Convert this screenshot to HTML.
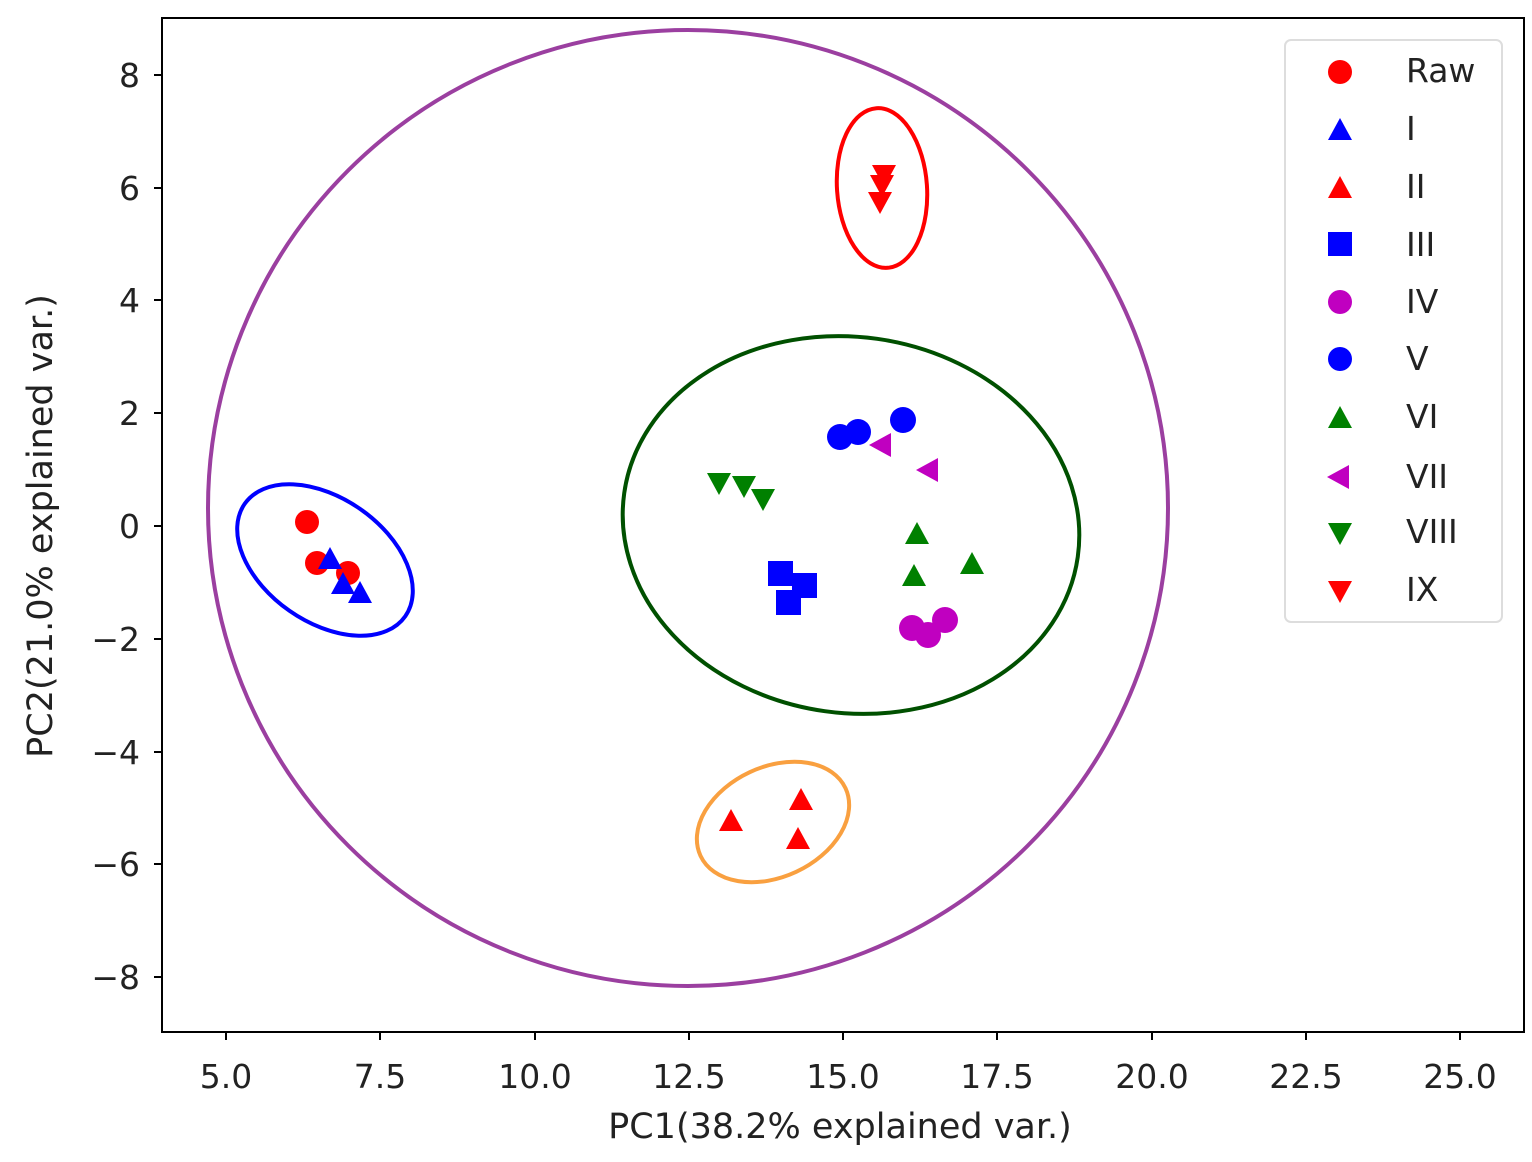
<html><body style="margin:0;background:#fff">
<svg width="1532" height="1162" xmlns="http://www.w3.org/2000/svg" font-family="DejaVu Sans, Liberation Sans, sans-serif">
<defs>
<path id="up" d="M0,-13 L12,9 L-12,9Z"/>
<path id="dn" d="M0,13 L12,-9 L-12,-9Z"/>
<path id="lt" d="M-13,0 L9,-12 L9,12Z"/>
</defs>
<rect x="162" y="18" width="1362" height="1014" fill="none" stroke="#000" stroke-width="2"/>
<g stroke="#000" stroke-width="2">
<line x1="226" y1="1032" x2="226" y2="1040"/><line x1="380" y1="1032" x2="380" y2="1040"/><line x1="535" y1="1032" x2="535" y2="1040"/><line x1="689" y1="1032" x2="689" y2="1040"/><line x1="843" y1="1032" x2="843" y2="1040"/><line x1="997" y1="1032" x2="997" y2="1040"/><line x1="1152" y1="1032" x2="1152" y2="1040"/><line x1="1306" y1="1032" x2="1306" y2="1040"/><line x1="1460" y1="1032" x2="1460" y2="1040"/>
<line x1="154" y1="75" x2="162" y2="75"/><line x1="154" y1="188" x2="162" y2="188"/><line x1="154" y1="300" x2="162" y2="300"/><line x1="154" y1="413" x2="162" y2="413"/><line x1="154" y1="526" x2="162" y2="526"/><line x1="154" y1="639" x2="162" y2="639"/><line x1="154" y1="752" x2="162" y2="752"/><line x1="154" y1="864" x2="162" y2="864"/><line x1="154" y1="977" x2="162" y2="977"/>
</g>
<g font-size="33" fill="#222" text-anchor="middle">
<text x="226" y="1088">5.0</text><text x="380" y="1088">7.5</text><text x="535" y="1088">10.0</text><text x="689" y="1088">12.5</text><text x="843" y="1088">15.0</text><text x="997" y="1088">17.5</text><text x="1152" y="1088">20.0</text><text x="1306" y="1088">22.5</text><text x="1460" y="1088">25.0</text>
</g>
<g font-size="33" fill="#222" text-anchor="end">
<text x="140" y="87">8</text><text x="140" y="200">6</text><text x="140" y="312">4</text><text x="140" y="425">2</text><text x="140" y="538">0</text><text x="140" y="651">−2</text><text x="140" y="764">−4</text><text x="140" y="876">−6</text><text x="140" y="989">−8</text>
</g>
<text x="840" y="1138" font-size="35" fill="#222" text-anchor="middle">PC1(38.2% explained var.)</text>
<text transform="translate(52,526) rotate(-90)" font-size="35" fill="#222" text-anchor="middle">PC2(21.0% explained var.)</text>
<g fill="none" stroke-width="4">
<ellipse cx="688" cy="508" rx="480" ry="478" stroke="#9b3fa0"/>
<ellipse cx="882" cy="188" rx="45" ry="80" stroke="#f00" transform="rotate(-4 882 188)"/>
<ellipse cx="851" cy="525" rx="229" ry="188" stroke="#005000" transform="rotate(8 851 525)"/>
<ellipse cx="325" cy="560" rx="98" ry="62" stroke="#00f" transform="rotate(35 325 560)"/>
<ellipse cx="773" cy="822" rx="80" ry="55" stroke="#f9a040" transform="rotate(-25 773 822)"/>
</g>
<g fill="#f00"><circle cx="307" cy="522" r="12"/><circle cx="317" cy="563" r="12"/><circle cx="348" cy="573" r="12"/></g>
<g fill="#00f"><use href="#up" x="330" y="560"/><use href="#up" x="343" y="585"/><use href="#up" x="360" y="594"/></g>
<g fill="#f00"><use href="#up" x="731" y="822"/><use href="#up" x="801" y="801"/><use href="#up" x="798" y="840"/></g>
<g fill="#f00"><use href="#dn" x="884" y="174"/><use href="#dn" x="882" y="184"/><use href="#dn" x="880" y="201"/></g>
<g fill="#00f"><rect x="768" y="561" width="25" height="25"/><rect x="792" y="573" width="25" height="25"/><rect x="776" y="590" width="25" height="25"/></g>
<g fill="#c000c0"><circle cx="912" cy="628" r="13"/><circle cx="928" cy="635" r="13"/><circle cx="945" cy="620" r="13"/></g>
<g fill="#00f"><circle cx="840" cy="437" r="13"/><circle cx="858" cy="432" r="13"/><circle cx="903" cy="420" r="13"/></g>
<g fill="#c000c0"><use href="#lt" x="882" y="445"/><use href="#lt" x="929" y="470"/></g>
<g fill="#008000"><use href="#up" x="917" y="535"/><use href="#up" x="914" y="577"/><use href="#up" x="972" y="565"/></g>
<g fill="#008000"><use href="#dn" x="719" y="482"/><use href="#dn" x="744" y="485"/><use href="#dn" x="763" y="498"/></g>
<rect x="1285" y="40" width="217" height="582" rx="6" fill="#fff" stroke="#ddd" stroke-width="2"/>
<circle cx="1340" cy="72" r="12" fill="#f00"/>
<use href="#up" x="1340" y="131" fill="#00f"/>
<use href="#up" x="1340" y="189" fill="#f00"/>
<rect x="1328" y="232" width="24" height="24" fill="#00f"/>
<circle cx="1340" cy="302" r="12" fill="#c000c0"/>
<circle cx="1340" cy="359" r="12" fill="#00f"/>
<use href="#up" x="1340" y="419" fill="#008000"/>
<use href="#lt" x="1340" y="477" fill="#c000c0"/>
<use href="#dn" x="1340" y="532" fill="#008000"/>
<use href="#dn" x="1340" y="590" fill="#f00"/>
<g font-size="33" fill="#222">
<text x="1406" y="82">Raw</text><text x="1406" y="140">I</text><text x="1406" y="198">II</text><text x="1406" y="256">III</text><text x="1406" y="313">IV</text><text x="1406" y="370">V</text><text x="1406" y="428">VI</text><text x="1406" y="488">VII</text><text x="1406" y="543">VIII</text><text x="1406" y="601">IX</text>
</g>
</svg>
</body></html>
